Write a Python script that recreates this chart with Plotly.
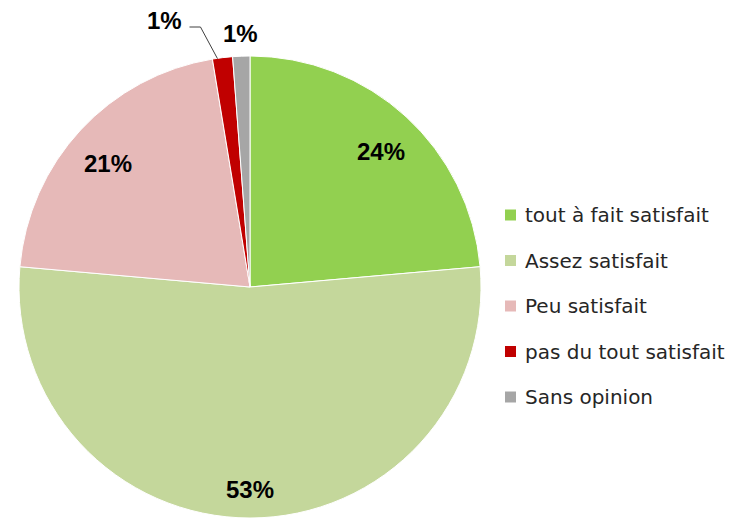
import math
import plotly.graph_objects as go

# ---- data ----
categories = ["tout à fait satisfait", "Assez satisfait", "Peu satisfait",
              "pas du tout satisfait", "Sans opinion"]
values = [23.6, 52.8, 21.0, 1.4, 1.2]
colors = ["#92D050", "#C4D79B", "#E6B9B8", "#C00000", "#A6A6A6"]

# ---- layout constants (pixels in the screenshot) ----
W, H = 742, 520
OFF = 8  # page body margin
CX, CY, R = 250, 287, 231
LABEL_DY = 8

def px(x):
    return (x - OFF) / W

def py(y):
    return 1 - (y - OFF) / H

fig = go.Figure()
fig.add_trace(go.Pie(
    labels=categories, values=values, sort=False, direction="clockwise",
    rotation=0, marker=dict(colors=colors, line=dict(color="white", width=1)),
    textinfo="none", hoverinfo="label+percent", showlegend=False,
    domain=dict(x=[px(CX - R), px(CX + R)], y=[py(CY + R), py(CY - R)]),
))

total = sum(values)
annotations = []
shapes = []
label_font = dict(family="Liberation Sans, Arial, sans-serif", size=24, color="black")
cum = 0
for i, v in enumerate(values):
    mid = (cum + v / 2) / total * 2 * math.pi
    cum += v
    pct = f"{round(v / total * 100)}%"
    if v / total > 0.05:
        r = 0.84 * R
        x = CX + r * math.sin(mid)
        y = CY - r * math.cos(mid) + LABEL_DY
        annotations.append(dict(x=px(x), y=py(y), xref="paper", yref="paper",
                                xanchor="center", yanchor="middle",
                                text=f"<b>{pct}</b>", showarrow=False, font=label_font))
    elif i == len(values) - 1:
        r = 1.10 * R
        x = CX + r * math.sin(mid)
        y = CY - r * math.cos(mid)
        annotations.append(dict(x=px(x), y=py(y), xref="paper", yref="paper",
                                xanchor="center", yanchor="middle",
                                text=f"<b>{pct}</b>", showarrow=False, font=label_font))
    else:
        # leader line label
        ex = CX + R * math.sin(mid) - 5
        ey = CY - R * math.cos(mid) + 1
        bx, by = ex - 17, 27
        tx = bx - 11
        shapes.append(dict(type="path", xref="paper", yref="paper",
                           path=f"M {px(ex)},{py(ey)} L {px(bx)},{py(by)} L {px(tx)},{py(by)}",
                           line=dict(color="#404040", width=1)))
        annotations.append(dict(x=px(tx - 5), y=py(20), xref="paper", yref="paper",
                                xanchor="right", yanchor="middle",
                                text=f"<b>{pct}</b>", showarrow=False, font=label_font))

# legend drawn manually
LX, LY0, LDY = 505, 215, 45.5
for i, (c, col) in enumerate(zip(categories, colors)):
    y = LY0 + i * LDY
    shapes.append(dict(type="rect", xref="paper", yref="paper",
                       x0=px(LX), x1=px(LX + 11), y0=py(y + 5.5), y1=py(y - 5.5),
                       fillcolor=col, line=dict(width=0)))
    annotations.append(dict(x=px(LX + 18), y=py(y), xref="paper", yref="paper",
                            xanchor="left", yanchor="middle", text=c, showarrow=False,
                            font=dict(family="DejaVu Sans, Verdana, sans-serif",
                                      size=20, color="#262626")))

fig.update_layout(
    width=W, height=H, margin=dict(l=0, r=0, t=0, b=0),
    paper_bgcolor="white", plot_bgcolor="white",
    annotations=annotations, shapes=shapes,
)
fig.write_html("out.html")
